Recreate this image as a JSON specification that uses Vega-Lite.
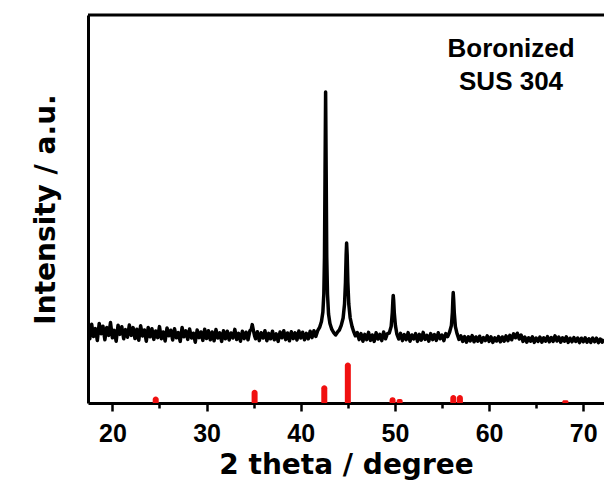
{
  "$schema": "https://vega.github.io/schema/vega-lite/v6.json",
  "width": 516,
  "height": 388,
  "autosize": {"type": "none"},
  "padding": {"left": 88, "top": 15, "right": 0, "bottom": 87},
  "background": "white",
  "config": {"view": {"stroke": null}, "scale": {"continuousPadding": 0}},
  "datasets": {
    "pattern": [
      {"t":17.4,"i":381},{"t":17.6,"i":321},{"t":17.8,"i":394},{"t":18.0,"i":333},{"t":18.2,"i":372},{"t":18.4,"i":312},{"t":18.6,"i":398},{"t":18.8,"i":346},{"t":19.0,"i":384},{"t":19.2,"i":316},{"t":19.4,"i":377},{"t":19.6,"i":338},{"t":19.8,"i":402},{"t":20.0,"i":326},{"t":20.2,"i":363},{"t":20.4,"i":309},{"t":20.6,"i":389},{"t":20.8,"i":343},{"t":21.0,"i":381},{"t":21.2,"i":321},{"t":21.4,"i":367},{"t":21.6,"i":329},{"t":21.8,"i":390},{"t":22.0,"i":338},
      {"t":22.2,"i":377},{"t":22.4,"i":322},{"t":22.6,"i":369},{"t":22.8,"i":314},{"t":23.0,"i":386},{"t":23.2,"i":335},{"t":23.4,"i":365},{"t":23.6,"i":309},{"t":23.8,"i":378},{"t":24.0,"i":331},{"t":24.2,"i":371},{"t":24.4,"i":318},{"t":24.6,"i":360},{"t":24.8,"i":327},{"t":25.0,"i":382},{"t":25.2,"i":321},{"t":25.4,"i":355},{"t":25.6,"i":310},{"t":25.8,"i":375},{"t":26.0,"i":336},{"t":26.2,"i":364},{"t":26.4,"i":315},{"t":26.6,"i":371},{"t":26.8,"i":326},{"t":27.0,"i":352},{"t":27.2,"i":308},{"t":27.4,"i":378},{"t":27.6,"i":331},{"t":27.8,"i":361},{"t":28.0,"i":318},{"t":28.2,"i":370},{"t":28.4,"i":325},{"t":28.6,"i":349},{"t":28.8,"i":304},{"t":29.0,"i":365},{"t":29.2,"i":327},{"t":29.4,"i":355},{"t":29.6,"i":313},{"t":29.8,"i":369},{"t":30.0,"i":322},
      {"t":30.2,"i":361},{"t":30.4,"i":316},{"t":30.6,"i":355},{"t":30.8,"i":311},{"t":31.0,"i":367},{"t":31.2,"i":325},{"t":31.4,"i":351},{"t":31.6,"i":308},{"t":31.8,"i":361},{"t":32.0,"i":321},{"t":32.2,"i":359},{"t":32.4,"i":315},{"t":32.6,"i":350},{"t":32.8,"i":325},{"t":33.0,"i":368},{"t":33.2,"i":317},{"t":33.4,"i":348},{"t":33.6,"i":309},{"t":33.8,"i":359},{"t":34.0,"i":322},{"t":34.2,"i":354},{"t":34.4,"i":316},{"t":34.6,"i":361},{"t":34.75,"i":368},{"t":34.85,"i":392},{"t":34.95,"i":368},{"t":35.1,"i":335},{"t":35.2,"i":321},{"t":35.4,"i":356},{"t":35.6,"i":312},{"t":35.8,"i":351},{"t":36.0,"i":325},{"t":36.2,"i":361},{"t":36.4,"i":311},{"t":36.6,"i":348},{"t":36.8,"i":321},{"t":37.0,"i":359},{"t":37.2,"i":316},{"t":37.4,"i":346},{"t":37.6,"i":308},{"t":37.8,"i":355},{"t":38.0,"i":326},{"t":38.2,"i":361},{"t":38.4,"i":317},{"t":38.6,"i":350},{"t":38.8,"i":311},{"t":39.0,"i":356},{"t":39.2,"i":322},{"t":39.4,"i":351},{"t":39.6,"i":315},{"t":39.8,"i":360},{"t":40.0,"i":325},{"t":40.2,"i":354},{"t":40.4,"i":316},{"t":40.6,"i":348},{"t":40.8,"i":321},{"t":41.0,"i":359},{"t":41.2,"i":327},{"t":41.4,"i":361},{"t":41.6,"i":333},{"t":41.8,"i":362},
      {"t":42.0,"i":378},{"t":42.2,"i":408},{"t":42.35,"i":455},{"t":42.45,"i":545},{"t":42.52,"i":730},{"t":42.58,"i":1150},{"t":42.64,"i":1555},{"t":42.7,"i":1150},{"t":42.76,"i":730},{"t":42.84,"i":545},{"t":42.95,"i":445},{"t":43.1,"i":398},{"t":43.3,"i":368},{"t":43.5,"i":352},{"t":43.7,"i":340},{"t":43.9,"i":354},{"t":44.1,"i":365},{"t":44.3,"i":388},{"t":44.5,"i":425},{"t":44.65,"i":495},{"t":44.75,"i":605},{"t":44.82,"i":740},{"t":44.87,"i":800},{"t":44.93,"i":740},{"t":45.0,"i":605},{"t":45.1,"i":495},{"t":45.25,"i":425},{"t":45.45,"i":382},{"t":45.6,"i":360},{"t":45.8,"i":336},{"t":46.0,"i":352},{"t":46.2,"i":317},
      {"t":46.4,"i":347},{"t":46.6,"i":309},{"t":46.8,"i":343},{"t":47.0,"i":317},{"t":47.2,"i":353},{"t":47.4,"i":313},{"t":47.6,"i":340},{"t":47.8,"i":308},{"t":48.0,"i":351},{"t":48.2,"i":320},{"t":48.4,"i":343},{"t":48.6,"i":312},{"t":48.8,"i":355},{"t":49.0,"i":321},{"t":49.2,"i":347},{"t":49.4,"i":350},{"t":49.6,"i":382},{"t":49.72,"i":452},{"t":49.78,"i":510},{"t":49.82,"i":538},{"t":49.87,"i":510},{"t":49.93,"i":452},{"t":50.05,"i":388},{"t":50.2,"i":346},{"t":50.4,"i":320},{"t":50.6,"i":348},{"t":50.8,"i":312},{"t":51.0,"i":342},{"t":51.2,"i":317},{"t":51.4,"i":352},{"t":51.6,"i":309},{"t":51.8,"i":340},{"t":52.0,"i":320},{"t":52.2,"i":347},{"t":52.4,"i":308},{"t":52.6,"i":343},{"t":52.8,"i":314},{"t":53.0,"i":353},{"t":53.2,"i":318},{"t":53.4,"i":338},{"t":53.6,"i":309},{"t":53.8,"i":347},{"t":54.0,"i":317},{"t":54.2,"i":342},{"t":54.4,"i":313},{"t":54.6,"i":351},{"t":54.8,"i":321},{"t":55.0,"i":340},{"t":55.2,"i":312},{"t":55.4,"i":347},{"t":55.6,"i":332},{"t":55.8,"i":354},{"t":56.0,"i":388},{"t":56.1,"i":452},{"t":56.15,"i":515},{"t":56.19,"i":552},{"t":56.24,"i":515},{"t":56.3,"i":452},{"t":56.42,"i":382},{"t":56.6,"i":346},{"t":56.8,"i":318},
      {"t":57.0,"i":336},{"t":57.2,"i":308},{"t":57.4,"i":332},{"t":57.6,"i":304},{"t":57.8,"i":331},{"t":58.0,"i":310},{"t":58.2,"i":337},{"t":58.4,"i":306},{"t":58.6,"i":330},{"t":58.8,"i":309},{"t":59.0,"i":334},{"t":59.2,"i":304},{"t":59.4,"i":327},{"t":59.6,"i":312},{"t":59.8,"i":336},{"t":60.0,"i":308},{"t":60.2,"i":331},{"t":60.4,"i":303},{"t":60.6,"i":326},{"t":60.8,"i":310},{"t":61.0,"i":332},{"t":61.2,"i":306},{"t":61.4,"i":330},{"t":61.6,"i":309},{"t":61.8,"i":336},{"t":62.0,"i":312},{"t":62.2,"i":338},{"t":62.4,"i":316},{"t":62.6,"i":346},{"t":62.8,"i":326},{"t":63.0,"i":349},{"t":63.2,"i":320},{"t":63.4,"i":340},{"t":63.6,"i":308},{"t":63.8,"i":330},{"t":64.0,"i":304},{"t":64.2,"i":326},{"t":64.4,"i":309},{"t":64.6,"i":331},{"t":64.8,"i":303},{"t":65.0,"i":325},{"t":65.2,"i":308},{"t":65.4,"i":330},{"t":65.6,"i":304},{"t":65.8,"i":326},{"t":66.0,"i":309},{"t":66.2,"i":332},{"t":66.4,"i":306},{"t":66.6,"i":327},{"t":66.8,"i":308},{"t":67.0,"i":336},{"t":67.2,"i":310},{"t":67.4,"i":330},{"t":67.6,"i":304},{"t":67.8,"i":326},{"t":68.0,"i":309},{"t":68.2,"i":331},{"t":68.4,"i":303},{"t":68.6,"i":324},{"t":68.8,"i":306},{"t":69.0,"i":327},{"t":69.2,"i":308},{"t":69.4,"i":325},{"t":69.6,"i":302},{"t":69.8,"i":324},{"t":70.0,"i":306},{"t":70.2,"i":326},{"t":70.4,"i":304},{"t":70.6,"i":321},{"t":70.8,"i":303},{"t":71.0,"i":325},{"t":71.2,"i":306},{"t":71.4,"i":324},{"t":71.6,"i":302},{"t":71.8,"i":320},{"t":72.0,"i":304},{"t":72.2,"i":319}
    ],
    "reference": [
      {"t":24.6,"rel":16},{"t":35.1,"rel":33},{"t":42.5,"rel":44},{"t":45.0,"rel":100},{"t":49.75,"rel":14},{"t":50.5,"rel":10},{"t":56.2,"rel":20},{"t":56.9,"rel":20},{"t":68.1,"rel":7}
    ],
    "notes": [
      {"t":62.33,"i":1730,"label":"Boronized"},
      {"t":62.33,"i":1565,"label":"SUS 304"}
    ]
  },
  "layer": [
    {
      "layer": [
        {
          "data": {"name": "pattern"},
          "mark": {"type": "line", "color": "black", "strokeWidth": 3.5, "clip": true, "strokeJoin": "round"},
          "encoding": {
            "x": {
              "field": "t", "type": "quantitative",
              "scale": {"domain": [17.41, 72.2], "nice": false, "zero": false, "padding": 0},
              "axis": {
                "values": [20,25,30,35,40,45,50,55,60,65,70],
                "labelExpr": "datum.value % 10 === 0 ? datum.label : ''",
                "tickSize": {"condition": {"test": "datum.value % 10 === 0", "value": 8}, "value": 5},
                "tickWidth": 2.5, "tickColor": "black",
                "domainColor": "black", "domainWidth": 3,
                "labelFont": "Liberation Sans", "labelFontWeight": "bold", "labelFontSize": 25, "labelColor": "black",
                "labelPadding": 10, "labelFlush": false, "labelOverlap": false, "grid": false,
                "title": "2 theta / degree",
                "titleFont": "DejaVu Sans", "titleFontWeight": "bold", "titleFontSize": 28, "titleColor": "black",
                "titlePadding": 5
              }
            },
            "y": {
              "field": "i", "type": "quantitative",
              "scale": {"domain": [0, 1940], "nice": false, "zero": false},
              "axis": {
                "ticks": false, "labels": false, "grid": false,
                "domainColor": "black", "domainWidth": 3,
                "title": "Intensity / a.u.",
                "titleFont": "DejaVu Sans", "titleFontWeight": "bold", "titleFontSize": 28, "titleColor": "black",
                "titlePadding": 28
              }
            }
          }
        },
        {
          "data": {"values": [{}]},
          "mark": {"type": "rule", "color": "black", "strokeWidth": 3},
          "encoding": {"y": {"datum": 1940, "type": "quantitative"}}
        },
        {
          "data": {"name": "notes"},
          "mark": {"type": "text", "font": "Liberation Sans", "fontWeight": "bold", "fontSize": 26, "color": "black", "align": "center", "baseline": "alphabetic"},
          "encoding": {
            "x": {"field": "t", "type": "quantitative"},
            "y": {"field": "i", "type": "quantitative"},
            "text": {"field": "label"}
          }
        }
      ]
    },
    {
      "data": {"name": "reference"},
      "mark": {"type": "bar", "color": "#f01010", "width": 6, "orient": "vertical", "cornerRadiusTopLeft": 3, "cornerRadiusTopRight": 3},
      "encoding": {
        "x": {"field": "t", "type": "quantitative"},
        "y": {"field": "rel", "type": "quantitative", "scale": {"domain": [0, 958], "nice": false}, "axis": null},
        "y2": {"datum": 0}
      }
    }
  ],
  "resolve": {"scale": {"y": "independent"}}
}
